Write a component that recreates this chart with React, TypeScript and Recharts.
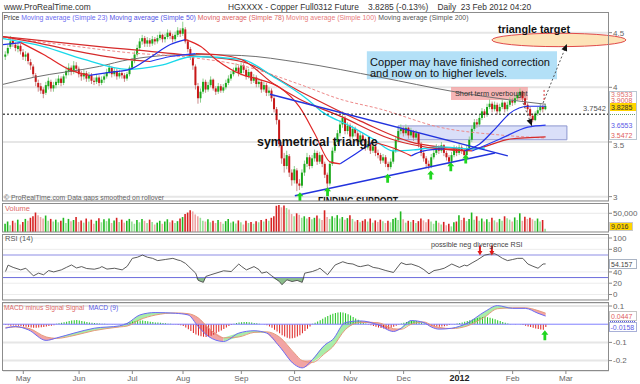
import React from 'react';
import {
  ComposedChart, Bar, Line, Area, XAxis, YAxis, CartesianGrid,
  ReferenceLine, ReferenceArea, ReferenceDot, Cell,
} from 'recharts';

const FONT = '"Liberation Sans", Arial, sans-serif';

// ---------- axes ----------
const X_DOMAIN: [number, number] = [0, 239];
const monthTicks = [8, 30, 51, 71, 94, 115, 137, 158, 180, 201, 222];
const monthLabels = ['May', 'Jun', 'Jul', 'Aug', 'Sep', 'Oct', 'Nov', 'Dec', '2012', 'Feb', 'Mar'];
const priceTicks = [3, 3.5, 4, 4.5];
const volumeTicks = [50000];
const rsiTicks = [0, 20, 40, 80, 100];
const macdTicks = [-0.2, -0.1, 0.1];

// ---------- daily candles (US cents) ----------
const opens = [
  428,431,437,443,439,435,438,432,428,431, 423,419,411,404,401,398,395,401,405,399,
  402,404,408,404,411,414,418,414,420,417, 412,410,413,408,411,406,405,409,404,407,
  410,414,418,412,415,410,413,411,408,412, 418,424,430,436,442,445,440,443,440,444,
  442,445,448,444,446,450,447,444,448,452, 449,453,442,435,428,419,401,390,396,405,
  398,402,407,399,396,401,397,400,404,408, 412,415,418,413,420,416,410,414,406,409,
  403,405,398,402,395,397,390,380,370,347, 335,328,337,322,315,324,312,310,322,330,
  336,328,335,340,332,338,330,320,312,330, 342,350,358,366,372,360,365,355,362,358,
  350,356,352,345,348,342,346,340,338,333, 336,330,327,332,342,352,360,362,358,363,
  356,360,354,358,348,340,335,330,328,336, 340,345,342,347,340,336,332,338,344,340,
  345,342,338,344,352,362,368,366,372,378, 375,382,385,380,384,378,382,386,380,384,
  388,386,390,393,396,390,384,380,374,370, 376,379,382,380,
];
const highs = [
  433,439,447,446,441,441,440,435,433,432, 426,421,413,407,404,400,405,409,407,405,
  408,411,410,412,419,422,420,424,423,419, 415,416,415,414,413,409,412,411,410,413,
  417,421,419,418,417,416,415,413,414,420, 427,433,439,445,448,447,446,445,447,446,
  448,451,449,449,453,452,449,451,455,454, 460,455,444,437,430,421,404,399,408,407,
  405,410,408,401,404,403,403,407,411,415, 418,422,420,423,422,418,417,415,412,411,
  408,407,405,404,400,399,392,382,371,350, 340,342,339,325,328,326,316,325,333,340,
  338,338,343,342,341,339,332,322,332,345, 353,361,370,378,374,368,367,365,364,360,
  359,358,354,351,350,349,348,343,340,339, 338,332,335,344,355,363,366,364,366,364,
  363,361,361,359,350,342,337,333,339,343, 348,347,350,348,342,338,341,347,346,348,
  347,344,347,355,365,371,371,375,381,380, 385,389,387,387,386,385,389,387,387,391,
  390,393,396,399,397,392,386,382,376,378, 382,385,384,385,
];
const lows = [
  425,429,435,437,433,432,430,425,424,421, 416,409,401,396,394,390,393,398,396,396,
  399,402,401,402,408,411,411,412,413,409, 406,407,405,405,403,402,403,401,402,404,
  408,412,409,410,407,408,408,405,406,410, 416,422,428,434,439,437,437,437,438,439,
  440,443,441,441,444,444,441,442,446,446, 447,440,432,425,416,398,385,386,394,395,
  396,400,397,393,394,395,395,398,402,406, 410,413,410,411,413,407,408,403,404,400,
  400,395,396,392,392,387,377,366,345,330, 322,325,318,310,312,305,306,308,319,327,
  325,326,332,329,330,327,317,308,310,328, 340,348,355,363,357,357,352,353,355,347,
  348,349,342,343,339,340,337,335,330,331, 327,324,325,330,340,350,357,355,356,353,
  354,351,352,345,337,332,327,325,326,334, 338,339,340,337,333,329,330,336,337,338,
  339,336,336,342,350,360,363,364,370,372, 373,380,377,378,375,376,380,377,378,382,
  383,384,388,391,387,381,377,371,368,369, 374,377,377,379,
];
const closes = [
  430,436,442,440,436,438,433,428,430,424, 420,412,405,400,397,394,402,406,399,402,
  405,408,404,410,415,418,414,420,417,412, 410,413,408,411,406,405,409,404,407,410,
  414,418,412,415,410,413,411,408,412,418, 424,430,436,442,445,440,443,440,444,442,
  445,448,444,446,450,447,444,448,452,449, 454,442,435,428,420,402,390,396,405,398,
  402,407,399,396,401,397,400,404,408,412, 415,418,413,420,416,410,414,406,409,403,
  405,398,402,395,397,390,380,370,348,335, 328,338,322,315,325,312,310,322,330,336,
  328,335,340,332,338,330,320,312,330,342, 350,358,366,372,360,365,355,362,358,350,
  356,352,345,348,342,346,340,338,333,336, 330,327,332,342,352,360,362,358,363,356,
  360,354,358,348,340,335,330,328,336,340, 345,342,347,340,336,332,338,344,340,345,
  342,338,344,352,362,368,366,372,378,375, 382,385,380,384,378,382,386,380,384,388,
  386,390,393,396,390,384,380,374,370,376, 379,382,380,383,
];
// volume, thousands of contracts
const volumes = [
  22,28,18,30,25,33,20,27,35,30, 38,42,52,45,40,36,44,30,35,28,
  33,26,30,38,24,35,29,32,40,27, 31,25,36,28,33,22,30,37,26,34,
  29,36,24,31,38,27,33,25,30,35, 28,22,32,26,35,30,24,33,27,20,
  25,30,22,28,34,26,31,24,29,36, 40,48,52,58,55,47,42,38,30,28,
  34,26,30,24,32,27,22,29,35,25, 28,23,31,26,20,30,24,27,22,29,
  26,32,28,35,30,38,42,70,72,66, 71,64,60,48,42,50,46,38,42,36,
  40,34,38,44,36,32,58,40,35,42, 38,45,36,40,33,37,45,35,28,32,
  26,30,34,28,36,25,31,27,33,29, 24,30,26,35,38,32,55,34,25,30,
  27,32,24,29,36,31,26,34,28,22, 30,25,20,27,18,22,15,26,28,45,
  32,38,29,35,52,33,42,30,36,28, 34,27,38,31,26,35,30,42,37,33,
  28,39,32,50,30,41,35,38,34,30, 36,28,32,9.016,
];
// MACD minus signal histogram, thousandths
const macdHist = [
  -5,-6,-8,-7,-9,-8,-10,
  -12,-14,-16,-18,-19,-20,-18,-17,-15,-13,-10,-8,-6,
  2,5,8,11,14,17,20,22,23,21,18,
  15,12,10,8,6,5,4,3,2,1,
  0,1,-1,0,1,0,2,
  5,10,15,18,20,21,20,18,16,14,12,10,9,8,6,5,3,2,
  -1,-2,-4,-6,-10,
  -18,-28,-38,-48,-56,-62,-66,-69,-70,-68,-64,-58,-50,-42,-34,-26,-18,-10,-4,
  3,6,9,11,12,12,11,9,7,5,
  2,0,-2,
  -6,-12,-20,-30,-40,-50,-60,-68,-75,-78,-77,-74,-68,-60,-50,-38,-25,-12,
  2,8,15,22,30,38,45,52,58,62,64,65,64,60,55,48,40,32,24,16,9,4,
  -3,-6,-10,-14,-18,-21,-24,-25,-24,-20,-14,-8,-3,
  4,8,12,15,17,18,16,13,9,5,
  -2,-5,-8,-11,-13,-14,-13,-11,-8,-5,
  -2,1,4,7,10,14,18,22,26,30,34,37,39,40,38,35,31,27,22,17,12,8,4,
  1,0,-1,0,1,
  -4,-8,-12,-16,-20,-24,-27,-29,-30,-16,
];

// ---------- indicator lines, [day index, value] ----------
type Pt = [number, number];
const ma23: Pt[] = [[0,4.391],[7,4.409],[16,4.3],[26,4.164],[34,4.109],[42,4.136],[50,4.164],[58,4.273],[66,4.391],[72,4.436],[78,4.373],[84,4.255],[94,4.118],[101,4.073],[109,4.0],[117,3.818],[123,3.573],[129,3.318],[133,3.3],[139,3.391],[146,3.5],[155,3.436],[161,3.373],[166,3.418],[174,3.436],[182,3.418],[188,3.482],[194,3.618],[200,3.764],[207,3.827],[214,3.827]];
const ma50: Pt[] = [[0,4.445],[16,4.373],[32,4.255],[49,4.164],[62,4.2],[75,4.282],[94,4.255],[107,4.091],[120,3.891],[126,3.773],[137,3.645],[146,3.527],[154,3.418],[162,3.427],[172,3.455],[185,3.436],[190,3.445]];
const ma78: Pt[] = [[0,4.464],[15,4.4],[30,4.327],[49,4.255],[58,4.236],[66,4.282],[76,4.309],[84,4.3],[94,4.255],[107,4.027],[117,3.891],[133,3.736],[153,3.527],[172,3.436],[185,3.418],[196,3.527],[207,3.636],[214,3.655]];
const ma100: Pt[] = [[0,4.464],[38,4.373],[74,4.291],[94,4.236],[117,3.964],[141,3.691],[164,3.482],[185,3.436],[200,3.527],[214,3.547]];
const maDashed: Pt[] = [[0,4.455],[23,4.391],[49,4.318],[74,4.273],[94,4.2],[117,4.027],[133,3.891],[149,3.8],[172,3.636],[196,3.564],[214,3.536]];
const ma200: Pt[] = [[0,4.027],[12,4.091],[38,4.191],[50,4.255],[74,4.3],[94,4.291],[117,4.227],[149,4.091],[177,3.964],[207,3.864],[214,3.845]];

const rsiPoints: Pt[] = [[1,40.7],[2,52],[4,48],[7,43.6],[9,46.5],[12,33],[14,37.8],[16,35],[18,42.4],[20,40],[23,43.6],[25,48],[27,52.3],[29,47],[31,49.4],[33,46],[36,44.8],[38,47],[39,49.4],[41,45],[44,46.5],[47,43.6],[49,50],[51,64],[53,66],[55,69.8],[57,66],[59,64],[61,60],[64,62],[67,64],[69,61],[70,60],[72,55],[73,50.6],[76,37.8],[77,25],[79,21.5],[80,32],[82,35],[84,37.8],[87,42],[90,40.7],[93,54],[94,50],[96,43.6],[99,49.4],[101,44],[102,37.8],[104,40],[106,33],[109,23],[110,17.4],[112,26],[114,23],[116,25],[118,21.5],[119,37.8],[122,40.7],[124,44],[125,46.5],[128,35],[131,52.3],[134,58],[136,55],[138,54],[140,50],[141,49.4],[144,52.3],[146,48],[148,46.5],[151,42.4],[154,39],[157,56.4],[159,53],[161,54],[164,49.4],[166,44],[168,36.6],[170,42.4],[172,44],[174,46.5],[177,54],[180,48],[182,52],[183,50.6],[185,56],[187,61],[190,69.8],[192,71.5],[194,72],[195,69.8],[197,64],[199,60],[201,62],[203,64],[205,64],[207,54],[209,50],[211,46.5],[213,54],[214,54.157]];

// [day index, MACD, signal]
const macdPoints: [number, number, number][] = [[1,-0.022,-0.018],[5,-0.013,-0.015],[10,-0.031,-0.022],[17,-0.089,-0.07],[21,-0.076,-0.078],[28,-0.049,-0.062],[36,-0.022,-0.035],[46,-0.009,-0.015],[49,0.005,-0.01],[54,0.051,0.025],[60,0.064,0.05],[68,0.06,0.062],[73,0.051,0.058],[77,-0.013,0.035],[81,-0.067,-0.02],[87,-0.095,-0.075],[93,-0.049,-0.07],[99,-0.036,-0.045],[104,-0.049,-0.042],[109,-0.122,-0.07],[115,-0.222,-0.16],[118,-0.24,-0.2],[122,-0.195,-0.21],[127,-0.113,-0.16],[130,-0.085,-0.125],[135,0.009,-0.03],[141,0.018,0.01],[148,-0.004,0.008],[154,-0.04,-0.025],[157,-0.022,-0.028],[161,0.02,0.0],[166,0.009,0.012],[169,-0.016,-0.005],[172,-0.027,-0.018],[177,-0.022,-0.024],[183,0.005,-0.01],[190,0.069,0.04],[195,0.102,0.085],[201,0.087,0.09],[206,0.087,0.09],[211,0.06,0.075],[214,0.0447,0.0605]];

// ---------- annotations (data coordinates) ----------
const upperTrend: Pt[] = [[105.3, 3.936], [199.1, 3.373]];
const lowerTrend: Pt[] = [[115.1, 3.009], [194, 3.40]];
const supportArrows: Pt[] = [[117.1, 3.0], [128, 3.045], [151.7, 3.168], [168.7, 3.198], [176.6, 3.274], [182.5, 3.345]];
const rsiArrows: Pt[] = [[188.1, 78], [192.8, 78]];
const macdArrow: Pt = [213.7, -0.06];
const lastLevel = 3.7542;

// ---------- table ----------
const N = closes.length;
const rows: any[] = Array.from({ length: N + 1 }, (_, i) => ({ i }));
for (let k = 0; k < N; k++) {
  const r = rows[k + 1];
  r.o = opens[k] / 100; r.h = highs[k] / 100; r.l = lows[k] / 100; r.c = closes[k] / 100;
  r.rng = [r.l, r.h];
  r.vol = volumes[k] * 1000;
  r.hist = macdHist[k] / 1000;
  const up = k === 0 ? true : closes[k] >= closes[k - 1];
  const light = k > 0 && volumes[k] < volumes[k - 1];
  r.volColor = up ? (light ? '#95e095' : '#21b821') : (light ? '#eea4a4' : '#d62222');
}

function placeRuns(pts: Pt[], prefix: string, up: string, down: string) {
  const runs: { up: boolean; pts: Pt[] }[] = [];
  for (let k = 1; k < pts.length; k++) {
    const isUp = pts[k][1] >= pts[k - 1][1];
    const last = runs[runs.length - 1];
    if (!last || last.up !== isUp) runs.push({ up: isUp, pts: [pts[k - 1], pts[k]] });
    else last.pts.push(pts[k]);
  }
  return runs.map((run, n) => {
    const key = `${prefix}${n}`;
    run.pts.forEach(([i, v]) => { rows[Math.round(i)][key] = v; });
    return { key, color: run.up ? up : down };
  });
}
function placeLine(pts: Pt[], key: string) {
  pts.forEach(([i, v]) => { rows[Math.round(i)][key] = v; });
}
const runs23 = placeRuns(ma23, 'm23_', '#1f2fe6', '#e02626');
const runs78 = placeRuns(ma78, 'm78_', '#2a3af0', '#d42a2a');
placeLine(ma50, 'ma50');
placeLine(ma100, 'ma100');
placeLine(maDashed, 'maDash');
placeLine(ma200, 'ma200');

rsiPoints.forEach(([i, v]) => {
  const r = rows[i];
  r.rsi = v; r.rsiLo = [Math.min(v, 30), 30]; r.rsiHi = [70, Math.max(v, 70)];
});
macdPoints.forEach(([i, m, s]) => { rows[i].macd = m; rows[i].sig = s; });
const bandRuns = (() => {
  const runs: { pos: boolean; idx: number[] }[] = [];
  for (let k = 1; k < macdPoints.length; k++) {
    const a = macdPoints[k - 1], b = macdPoints[k];
    const pos = a[1] + b[1] >= a[2] + b[2];
    const last = runs[runs.length - 1];
    if (!last || last.pos !== pos) runs.push({ pos, idx: [k - 1, k] });
    else last.idx.push(k);
  }
  return runs.map((run, n) => {
    const key = `band${n}`;
    run.idx.forEach((k) => {
      const [i, m, s] = macdPoints[k];
      rows[i][key] = [Math.min(m, s), Math.max(m, s)];
    });
    return { key, color: run.pos ? '#a9eda9' : '#f2a4a4' };
  });
})();

// ---------- shapes ----------
const Candle = (p: any) => {
  const row = p.payload ?? rows[p.index];
  if (!row || row.o == null) return null;
  const { o, h, l, c } = row;
  const top = Math.min(p.y, p.y + p.height);
  const hh = Math.abs(p.height);
  const cx = p.x + p.width / 2;
  const span = h - l || 1e-6;
  const yOf = (v: number) => top + ((h - v) / span) * hh;
  const up = c >= o;
  const bt = yOf(Math.max(o, c));
  const bb = yOf(Math.min(o, c));
  return (
    <g>
      <line x1={cx} x2={cx} y1={top} y2={top + hh} stroke={up ? '#8fcf8f' : '#c98a8a'} strokeWidth={1} />
      <rect x={cx - 1} y={bt} width={2} height={Math.max(1, bb - bt)} fill={up ? '#1aa81a' : '#c81818'} />
    </g>
  );
};

const arrowShape = (color: string, w: number, h: number, down = false) => (p: any) => {
  const { cx, cy } = p;
  if (cx == null || cy == null) return null;
  const s = down ? -1 : 1;
  const tip = cy - s * h / 2, base = cy + s * h / 2, neck = tip + s * h * 0.45;
  const hw = w / 2, sw = w / 5;
  return (
    <path
      d={`M${cx} ${tip} L${cx + hw} ${neck} L${cx + sw} ${neck} L${cx + sw} ${base} L${cx - sw} ${base} L${cx - sw} ${neck} L${cx - hw} ${neck} Z`}
      fill={color}
    />
  );
};
const headShape = (angle: number) => (p: any) => {
  const { cx, cy } = p;
  if (cx == null) return null;
  return <path d="M0 0 L-7 -3 L-7 3 Z" fill="#111" transform={`translate(${cx},${cy}) rotate(${angle})`} />;
};
const EllipseShape = (p: any) => (
  <ellipse cx={p.x + p.width / 2} cy={p.y + p.height / 2} rx={p.width / 2} ry={p.height / 2} fill="#fde3b8" stroke="#e04a4a" strokeWidth={1} />
);

const axisTick = { fontSize: 8, fill: '#666', fontFamily: FONT };
// price axis: the 3.5 label sits a little lower, under the last-value box
const PriceTick = (p: any) => {
  const v = p.payload.value;
  return (
    <text x={p.x} y={p.y} dy={v === 3.5 ? 6 : 3} fontSize={8} fill="#666" fontFamily={FONT} textAnchor="start">{String(v)}</text>
  );
};
const MonthTick = (p: any) => {
  const idx = monthTicks.indexOf(p.payload.value);
  const label = monthLabels[idx] ?? '';
  const bold = label === '2012';
  return (
    <text x={p.x} y={p.y} dy={5.5} textAnchor="middle" fontFamily={FONT}
      fontSize={bold ? 9 : 8} fontWeight={bold ? 'bold' : 'normal'} fill={bold ? '#222' : '#666'}>
      {label}
    </text>
  );
};

const common = { margin: { top: 0, right: 0, bottom: 0, left: 3 }, data: rows };
const yAxisCommon = { orientation: 'right' as const, width: 31, tick: axisTick, tickSize: 3, tickMargin: 1, axisLine: false, tickLine: { stroke: '#888' }, allowDataOverflow: true, interval: 0 as const };
const lineCommon = { dot: false, isAnimationActive: false, connectNulls: true, activeDot: false } as any;

export default function App() {
  return (
    <div style={{ position: 'absolute', left: 0, top: 0, width: 640, height: 384, background: '#fff', fontFamily: FONT, overflow: 'hidden' }}>
      {/* PRICE */}
      <div style={{ position: 'absolute', left: 0, top: 12 }}>
        <ComposedChart width={640} height={189} {...common}>
          <CartesianGrid vertical={false} stroke="#e6e6e6" strokeWidth={2} />
          <XAxis type="number" dataKey="i" domain={X_DOMAIN} hide allowDataOverflow />
          <YAxis {...yAxisCommon} domain={[2.96, 4.689]} ticks={priceTicks} tick={(p: any) => <PriceTick {...p} />} />
          <ReferenceArea x1={143.5} x2={218.5} y1={4.073} y2={4.33} fill="#b3e0f7" fillOpacity={1} stroke="none" />
          <ReferenceArea x1={155.8} x2={222.4} y1={3.52} y2={3.647} fill="#dadff9" fillOpacity={1} stroke="#8d96cf" />
          <ReferenceArea x1={176.7} x2={207} y1={3.884} y2={4.003} fill="#f29c9c" fillOpacity={0.75} stroke="none" />
          <ReferenceArea x1={192.8} x2={245.7} y1={4.372} y2={4.4945} ifOverflow="hidden" shape={EllipseShape} />
          <Line dataKey="ma200" stroke="#707070" strokeWidth={1} type="monotone" {...lineCommon} />
          <Line dataKey="maDash" stroke="#ee8a8a" strokeWidth={1} strokeDasharray="3 2" type="monotone" {...lineCommon} />
          <Line dataKey="ma100" stroke="#d62a2a" strokeWidth={1.2} type="monotone" {...lineCommon} />
          <Line dataKey="ma50" stroke="#19d8ea" strokeWidth={1.3} type="monotone" {...lineCommon} />
          {runs78.map((r) => (
            <Line key={r.key} dataKey={r.key} stroke={r.color} strokeWidth={1.2} type="monotone" {...lineCommon} />
          ))}
          {runs23.map((r) => (
            <Line key={r.key} dataKey={r.key} stroke={r.color} strokeWidth={1.2} type="monotone" {...lineCommon} />
          ))}
          <Bar dataKey="rng" shape={Candle} barSize={2} isAnimationActive={false} />
          <ReferenceLine y={lastLevel} stroke="#000" strokeDasharray="2 2" strokeWidth={1} />
          <ReferenceLine segment={[{ x: upperTrend[0][0], y: upperTrend[0][1] }, { x: upperTrend[1][0], y: upperTrend[1][1] }]} stroke="#2233dd" strokeWidth={1.5} />
          <ReferenceLine segment={[{ x: lowerTrend[0][0], y: lowerTrend[0][1] }, { x: lowerTrend[1][0], y: lowerTrend[1][1] }]} stroke="#2233dd" strokeWidth={1.5} />
          <ReferenceLine segment={[{ x: 213, y: 3.857 }, { x: 222.4, y: 4.397 }]} stroke="#555" strokeDasharray="2 2" />
          <ReferenceLine segment={[{ x: 205.1, y: 3.857 }, { x: 208.6, y: 3.646 }]} stroke="#555" strokeDasharray="2 2" />
          <ReferenceLine segment={[{ x: 213.4, y: 3.976 }, { x: 213.4, y: 3.87 }]} stroke="#e03030" strokeDasharray="2 2" />
          <ReferenceDot x={222.4} y={4.397} r={3} shape={headShape(-68)} />
          <ReferenceDot x={208.6} y={3.646} r={3} shape={headShape(69)} />
          {supportArrows.map(([x, y], n) => (
            <ReferenceDot key={n} x={x} y={y} r={3} ifOverflow="visible" shape={arrowShape('#1fd61f', 7, 9)} />
          ))}
        </ComposedChart>
      </div>

      {/* VOLUME */}
      <div style={{ position: 'absolute', left: 0, top: 203 }}>
        <ComposedChart width={640} height={29} {...common}>
          <CartesianGrid vertical={false} stroke="#e8e8e8" strokeWidth={1} />
          <XAxis type="number" dataKey="i" domain={X_DOMAIN} hide allowDataOverflow />
          <YAxis {...yAxisCommon} domain={[0, 77500]} ticks={volumeTicks} tickFormatter={() => '50,000'} />
          <Bar dataKey="vol" barSize={1.6} isAnimationActive={false}>
            {rows.map((r, n) => <Cell key={n} fill={r.volColor ?? '#fff'} />)}
          </Bar>
        </ComposedChart>
      </div>

      {/* RSI */}
      <div style={{ position: 'absolute', left: 0, top: 234 }}>
        <ComposedChart width={640} height={66} {...common}>
          <CartesianGrid vertical={false} stroke="#ececec" strokeWidth={1} />
          <XAxis type="number" dataKey="i" domain={X_DOMAIN} hide allowDataOverflow />
          <YAxis {...yAxisCommon} domain={[-9.7, 107.1]} ticks={rsiTicks} />
          <ReferenceLine y={70} stroke="#c6c6f2" strokeWidth={2} />
          <ReferenceLine y={30} stroke="#6c6cdc" strokeWidth={1} />
          <Area dataKey="rsiLo" type="linear" fill="#7fb87f" fillOpacity={0.9} stroke="none" {...lineCommon} />
          <Area dataKey="rsiHi" type="linear" fill="#3232a8" fillOpacity={0.9} stroke="none" {...lineCommon} />
          <Line dataKey="rsi" type="linear" stroke="#4a4a4a" strokeWidth={0.9} {...lineCommon} />
          {rsiArrows.map(([x, y], n) => (
            <ReferenceDot key={n} x={x} y={y} r={3} ifOverflow="visible" shape={arrowShape('#e01a1a', 5, 10, true)} />
          ))}
        </ComposedChart>
      </div>

      {/* MACD */}
      <div style={{ position: 'absolute', left: 0, top: 303 }}>
        <ComposedChart width={640} height={82} {...common}>
          <CartesianGrid vertical={false} stroke="#e6e6e6" strokeWidth={2} />
          <XAxis type="number" dataKey="i" domain={X_DOMAIN} ticks={monthTicks} interval={0} height={14}
            tick={(p: any) => <MonthTick {...p} />} tickSize={3} tickMargin={1} axisLine={false}
            tickLine={{ stroke: '#888' }} allowDataOverflow />
          <YAxis {...yAxisCommon} domain={[-0.2571, 0.1165]} ticks={macdTicks} />
          {bandRuns.map((b) => (
            <Area key={b.key} dataKey={b.key} type="monotone" fill={b.color} fillOpacity={1} stroke="none" {...lineCommon} />
          ))}
          <ReferenceLine y={0} stroke="#8080ff" strokeWidth={1} />
          <Bar dataKey="hist" barSize={1} isAnimationActive={false}>
            {rows.map((r, n) => <Cell key={n} fill={(r.hist ?? 0) >= 0 ? '#1fc41f' : '#dd2222'} />)}
          </Bar>
          <Line dataKey="sig" type="monotone" stroke="#e59a7a" strokeWidth={1} {...lineCommon} />
          <Line dataKey="macd" type="monotone" stroke="#6a6af5" strokeWidth={1} {...lineCommon} />
          <ReferenceDot x={macdArrow[0]} y={macdArrow[1]} r={3} ifOverflow="visible" shape={arrowShape('#1fd61f', 7, 10)} />
        </ComposedChart>
      </div>

      {/* TEXT + FRAMES */}
      <svg width={640} height={384} style={{ position: 'absolute', left: 0, top: 0, pointerEvents: 'none' }} fontFamily={FONT}>
        <defs>
          <clipPath id="priceClip"><rect x={3} y={12} width={606} height={189} /></clipPath>
        </defs>
        <text x={4} y={10} fontSize={8.4} fill="#333">www.ProRealTime.com</text>
        <text x={228} y={10} fontSize={8.4} fill="#333" style={{ whiteSpace: 'pre' }}>{'HGXXXX - Copper Full0312 Future    3.8285 (-0.13%)    Daily  23 Feb 2012 04:20'}</text>

        <text x={3.5} y={19.5} fontSize={7} textLength={465} lengthAdjust="spacingAndGlyphs">
          <tspan fill="#333">Price </tspan>
          <tspan fill="#6b6bf2">Moving average (Simple 23) </tspan>
          <tspan fill="#5555e6">Moving average (Simple 50) </tspan>
          <tspan fill="#e06464">Moving average (Simple 78) </tspan>
          <tspan fill="#e87c7c">Moving average (Simple 100) </tspan>
          <tspan fill="#555">Moving average (Simple 200)</tspan>
        </text>

        <g clipPath="url(#priceClip)">
          <text x={498} y={33} fontSize={11} fontWeight="bold" fill="#111" textLength={72} lengthAdjust="spacingAndGlyphs">triangle target</text>
          <text x={370} y={66} fontSize={11} fill="#111" textLength={180} lengthAdjust="spacingAndGlyphs">Copper may have finished correction</text>
          <text x={370} y={77} fontSize={11} fill="#111" textLength={137} lengthAdjust="spacingAndGlyphs">and now on to higher levels.</text>
          <text x={455} y={96} fontSize={7.3} fill="#333">Short term overbought</text>
          <text x={257} y={146} fontSize={12.4} fontWeight="bold" fill="#111">symmetrical triangle</text>
          <text x={318} y={204.5} fontSize={10} fontWeight="bold" fill="#111" textLength={80} lengthAdjust="spacingAndGlyphs">FINDING SUPPORT</text>
          <text x={583} y={111} fontSize={7.5} fill="#555">3.7542</text>
          <text x={4} y={199.5} fontSize={7} fill="#666" textLength={160} lengthAdjust="spacingAndGlyphs">© ProRealTime.com  Data gaps smoothed on rollover</text>
        </g>

        {/* panel frames */}
        <rect x={2.5} y={12.5} width={606} height={188.5} fill="none" stroke="#8c8c8c" />
        <rect x={2.5} y={203.5} width={606} height={28.5} fill="none" stroke="#8c8c8c" />
        <rect x={2.5} y={234.5} width={606} height={65.5} fill="none" stroke="#8c8c8c" />
        <rect x={2.5} y={302.5} width={606} height={68} fill="none" stroke="#8c8c8c" />

        {/* panel titles */}
        <text x={5} y={211} fontSize={7.5} fill="#e06a6a">Volume</text>
        <text x={5} y={241} fontSize={7.5} fill="#555">RSI (14)</text>
        <text x={431} y={247} fontSize={7.2} fill="#444">possible neg divergence RSI</text>
        <text x={4} y={309.5} fontSize={6.7} fill="#e06a6a">MACD minus Signal Signal</text>
        <text x={88.5} y={309.5} fontSize={6.7} fill="#5a5ae6">MACD (9)</text>

        {/* last-value boxes */}
        <rect x={609.5} y={91.5} width={27} height={48} fill="#fff" stroke="#b9c6d2" />
        <text x={611} y={97} fontSize={7} fill="#e07070">3.9533</text>
        <text x={611} y={102.5} fontSize={7} fill="#e06060">3.9008</text>
        <rect x={610} y={103} width={26} height={8} fill="#ffd400" />
        <text x={611} y={109.5} fontSize={7} fill="#333">3.8285</text>
        <line x1={610} x2={636} y1={114.5} y2={114.5} stroke="#6a9a6a" strokeDasharray="1 1" />
        <text x={611} y={127.5} fontSize={7} fill="#5a5ae6">3.6553</text>
        <text x={611} y={137.5} fontSize={7} fill="#e06060">3.5472</text>

        <rect x={609.5} y={222.5} width={23} height={8} fill="#ffd400" stroke="#c8c8c8" />
        <text x={611} y={229} fontSize={7} fill="#333">9,016</text>

        <rect x={609.5} y={259.5} width={27} height={9} fill="#fff" stroke="#aab4c4" />
        <text x={611} y={266.5} fontSize={7} fill="#444">54.157</text>

        <rect x={609.5} y={311.5} width={27} height={9} fill="#fff" stroke="#c4c4c4" />
        <text x={611} y={318.5} fontSize={7} fill="#e06060">0.0447</text>
        <line x1={610} x2={636} y1={321.5} y2={321.5} stroke="#5a5ae6" strokeDasharray="1 1" />
        <rect x={609.5} y={322.5} width={27} height={9} fill="#fff" stroke="#a8b0d8" />
        <text x={610.5} y={329.5} fontSize={7} fill="#5a5ae6">-0.0158</text>
      </svg>
    </div>
  );
}
